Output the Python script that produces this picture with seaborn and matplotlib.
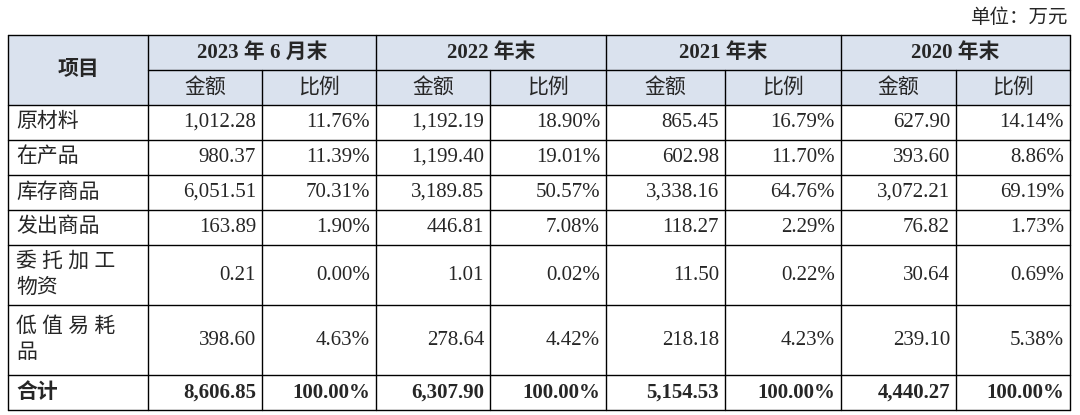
import matplotlib
matplotlib.use("Agg")
import matplotlib.pyplot as plt
import seaborn as sns

sns.set_style("white")
plt.rcParams['font.family'] = ['Liberation Serif', 'Noto Sans CJK SC']

# data
periods = ['2023 年 6 月末', '2022 年末', '2021 年末', '2020 年末']
items = ['原材料', '在产品', '库存商品', '发出商品', '委 托 加 工\n物资', '低 值 易 耗\n品', '合计']
amounts = [
    ['1,012.28', '980.37', '6,051.51', '163.89', '0.21', '398.60', '8,606.85'],
    ['1,192.19', '1,199.40', '3,189.85', '446.81', '1.01', '278.64', '6,307.90'],
    ['865.45', '602.98', '3,338.16', '118.27', '11.50', '218.18', '5,154.53'],
    ['627.90', '393.60', '3,072.21', '76.82', '30.64', '239.10', '4,440.27'],
]
ratios = [
    ['11.76%', '11.39%', '70.31%', '1.90%', '0.00%', '4.63%', '100.00%'],
    ['18.90%', '19.01%', '50.57%', '7.08%', '0.02%', '4.42%', '100.00%'],
    ['16.79%', '11.70%', '64.76%', '2.29%', '0.22%', '4.23%', '100.00%'],
    ['14.14%', '8.86%', '69.19%', '1.73%', '0.69%', '5.38%', '100.00%'],
]

W, H = 1080, 415
fig = plt.figure(figsize=(W / 100, H / 100), dpi=100)
ax = fig.add_axes([0, 0, 1, 1])
ax.set_xlim(0, W)
ax.set_ylim(H, 0)
ax.axis('off')

xs = [8, 148, 262, 376, 490, 606, 725, 841, 956, 1070]
ys = [35, 70, 105, 140, 175, 210, 245, 305, 375, 410]
hdr = '#dae2ee'
fs = 15

ax.add_patch(plt.Rectangle((xs[0], ys[0]), xs[-1] - xs[0], ys[2] - ys[0], color=hdr, lw=0))
ax.text(1068, 18, '单位：万元', ha='right', va='center', fontsize=14)

lw = 1.0
for y in ys:
    x0 = xs[1] if y == ys[1] else xs[0]
    ax.plot([x0, xs[-1]], [y, y], color='black', lw=lw)
for i, x in enumerate(xs):
    y0 = ys[1] if i in (2, 4, 6, 8) else ys[0]
    ax.plot([x, x], [y0, ys[-1]], color='black', lw=lw)

ax.text((xs[0] + xs[1]) / 2, (ys[0] + ys[2]) / 2, '项目', ha='center', va='center', fontsize=fs, weight='bold')
for k, p in enumerate(periods):
    xa, xb, xc = xs[1 + 2 * k], xs[2 + 2 * k], xs[3 + 2 * k]
    ax.text((xa + xc) / 2, (ys[0] + ys[1]) / 2, p, ha='center', va='center', fontsize=fs, weight='bold')
    ax.text((xa + xb) / 2, (ys[1] + ys[2]) / 2, '金额', ha='center', va='center', fontsize=fs)
    ax.text((xb + xc) / 2, (ys[1] + ys[2]) / 2, '比例', ha='center', va='center', fontsize=fs)

for r, item in enumerate(items):
    yt, yb = ys[2 + r], ys[3 + r]
    yc = (yt + yb) / 2
    bold = 'bold' if r == len(items) - 1 else 'normal'
    ax.text(xs[0] + 8, yc, item, ha='left', va='center', fontsize=fs, weight=bold, linespacing=1.5)
    for k in range(4):
        ax.text(xs[2 + 2 * k] - 6, yc, amounts[k][r], ha='right', va='center', fontsize=fs, weight=bold)
        ax.text(xs[3 + 2 * k] - 6, yc, ratios[k][r], ha='right', va='center', fontsize=fs, weight=bold)

fig.savefig('out.png', dpi=100)
